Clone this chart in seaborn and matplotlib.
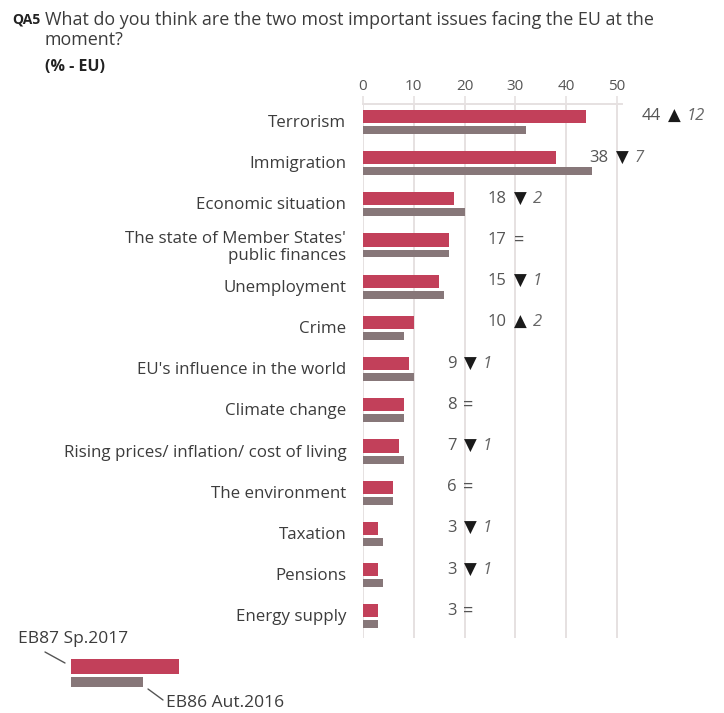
import numpy as np
import pandas as pd
import matplotlib
matplotlib.use("Agg")
import matplotlib.pyplot as plt
import seaborn as sns
from matplotlib.patches import Rectangle
from matplotlib.lines import Line2D

issues = [
    "Terrorism",
    "Immigration",
    "Economic situation",
    "The state of Member States'\npublic finances",
    "Unemployment",
    "Crime",
    "EU's influence in the world",
    "Climate change",
    "Rising prices/ inflation/ cost of living",
    "The environment",
    "Taxation",
    "Pensions",
    "Energy supply",
]
eb87 = [44, 38, 18, 17, 15, 10, 9, 8, 7, 6, 3, 3, 3]
eb86 = [32, 45, 20, 17, 16, 8, 10, 8, 8, 6, 4, 4, 3]
change = [12, -7, -2, 0, -1, 2, -1, 0, -1, 0, -1, -1, 0]
ticks = [0, 10, 20, 30, 40, 50]

# where the value labels end (layout only)
label_end = [58.6, 48.4, 28.3, 28.3, 28.3, 28.3, 18.4, 18.4, 18.4, 18.4, 18.4, 18.4, 18.4]

RED = "#c2405a"
GREY = "#877779"
GRID = "#e6e1e1"
TXT = "#3c3c3c"
FONT = "Open Sans"

sns.set_style("white")
plt.rcParams["font.family"] = [FONT, "DejaVu Sans"]

W, H = 724, 713
fig = plt.figure(figsize=(W / 100, H / 100), dpi=100)
ax = fig.add_axes([363 / W, 1 - 638 / H, (622 - 363) / W, (638 - 104) / H])

df = pd.DataFrame({
    "pos": np.arange(len(issues)),
    "eb87": eb87,
    "eb86": eb86,
})
df["pos_prev"] = df["pos"] + 0.33

sns.barplot(data=df, x="eb87", y="pos", orient="h", native_scale=True,
            width=0.32, color=RED, saturation=1, linewidth=0, errorbar=None, ax=ax)
sns.barplot(data=df, x="eb86", y="pos_prev", orient="h", native_scale=True,
            width=0.19, color=GREY, saturation=1, linewidth=0, errorbar=None, ax=ax)

ax.set_xlim(0, 51)
ax.set_ylim(len(issues) - 0.34, -0.30)
ax.set_xlabel("")
ax.set_ylabel("")

ax.set_xticks(ticks)
ax.xaxis.tick_top()
ax.tick_params(axis="x", top=True, bottom=False, labeltop=True, labelbottom=False,
               direction="out", length=6, width=1.2, color=GRID, pad=1.5,
               labelsize=11, labelcolor="#555555")
ax.grid(axis="x", color=GRID, linewidth=1.4)
ax.set_axisbelow(True)

ax.set_yticks(df["pos"] + 0.11)
ax.set_yticklabels(issues, fontsize=12.2, color=TXT, ha="right", linespacing=1.15)
ax.tick_params(axis="y", length=0, pad=12)
for lab in ax.get_yticklabels():
    lab.set_multialignment("right")

for s in ["right", "bottom", "left"]:
    ax.spines[s].set_visible(False)
ax.spines["top"].set_color(GRID)
ax.spines["top"].set_linewidth(1.4)

# value + change annotations
for i in range(len(issues)):
    y = i
    ax.annotate(str(eb87[i]), xy=(label_end[i], y), ha="right", va="center",
                fontsize=12, color="#555555", annotation_clip=False)
    d = change[i]
    if d == 0:
        ax.annotate("=", xy=(label_end[i], y), xytext=(12, 0), textcoords="offset pixels",
                    ha="center", va="center", fontsize=13, color="#555555",
                    annotation_clip=False)
    else:
        sym = "\u25b2" if d > 0 else "\u25bc"
        ax.annotate(sym, xy=(label_end[i], y), xytext=(14, 0), textcoords="offset pixels",
                    ha="center", va="center", fontsize=12, color="#1a1a1a",
                    family="DejaVu Sans", annotation_clip=False)
        ax.annotate(str(abs(d)), xy=(label_end[i], y), xytext=(26, 0), textcoords="offset pixels",
                    ha="left", va="center", fontsize=12, color="#666666", style="italic",
                    annotation_clip=False)

# title block
def fx(px):
    return px / W


def fy(py):
    return 1 - py / H


fig.text(fx(12), fy(20), "QA5", fontsize=10, fontweight="bold", color="#222222", va="center")
fig.text(fx(45), fy(20), "What do you think are the two most important issues facing the EU at the",
         fontsize=12.9, color=TXT, va="center")
fig.text(fx(45), fy(40), "moment?", fontsize=12.9, color=TXT, va="center")
fig.text(fx(45), fy(67), "(% - EU)", fontsize=11.5, fontweight="bold", color="#222222", va="center")

# legend
fig.add_artist(Rectangle((fx(71), fy(674)), fx(179) - fx(71), fy(659) - fy(674),
                         transform=fig.transFigure, color=RED, lw=0))
fig.add_artist(Rectangle((fx(71), fy(687)), fx(143) - fx(71), fy(677) - fy(687),
                         transform=fig.transFigure, color=GREY, lw=0))
fig.add_artist(Line2D([fx(45), fx(65)], [fy(652), fy(663)], transform=fig.transFigure,
                      color="#555555", lw=1))
fig.add_artist(Line2D([fx(148), fx(163)], [fy(689), fy(700)], transform=fig.transFigure,
                      color="#555555", lw=1))
fig.text(fx(18), fy(639), "EB87 Sp.2017", fontsize=12.5, color=TXT, va="center")
fig.text(fx(166), fy(703), "EB86 Aut.2016", fontsize=12.5, color=TXT, va="center")

fig.savefig("out.png", dpi=100, facecolor="white")
